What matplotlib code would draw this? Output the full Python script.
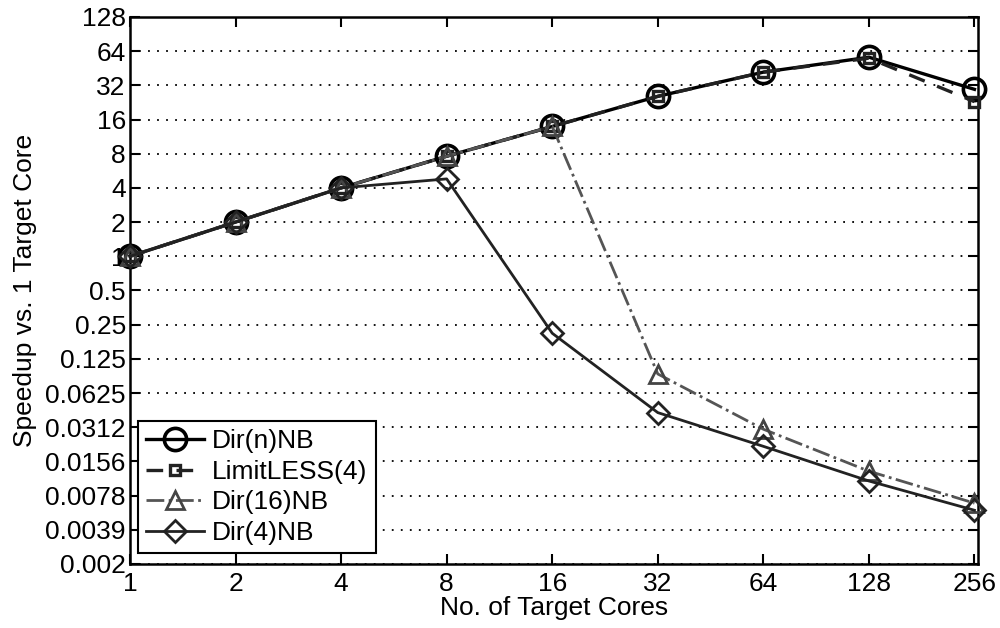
import numpy as np
import matplotlib
matplotlib.use("Agg")
import matplotlib.pyplot as plt
from matplotlib.ticker import FixedLocator, FixedFormatter, NullLocator

plt.rcParams['font.family'] = ['Liberation Sans', 'DejaVu Sans']

# data
cores = [1, 2, 4, 8, 16, 32, 64, 128, 256]
dir_n = [1, 2, 4, 7.6, 13.9, 25.6, 41.8, 56.6, 29.5]
limitless4 = [1, 2, 4, 7.6, 13.9, 25.6, 41.8, 55.5, 23.0]
dir16 = [1, 2, 4, 7.6, 13.9, 0.092, 0.030, 0.0128, 0.0067]
dir4 = [1, 2, 4, 4.8, 0.21, 0.042, 0.0212, 0.0105, 0.0058]

y_ticks = [2**-9, 2**-8, 2**-7, 2**-6, 2**-5, 2**-4, 2**-3, 2**-2, 2**-1,
           1, 2, 4, 8, 16, 32, 64, 128]
y_labels = ["0.002", "0.0039", "0.0078", "0.0156", "0.0312", "0.0625",
            "0.125", "0.25", "0.5", "1", "2", "4", "8", "16", "32", "64", "128"]
x_labels = [str(c) for c in cores]

fs = 19

fig = plt.figure(figsize=(10, 6.28), dpi=100)
ax = fig.add_axes([0.13, 0.102, 0.848, 0.871])

ax.plot(cores, dir_n, '-', color='black', lw=2.4, marker='o', ms=16,
        mfc='none', mec='black', mew=2.6, label='Dir(n)NB', clip_on=False, zorder=3)
ax.plot(cores, limitless4, '--', color='#222222', lw=2.4, marker='s', ms=7,
        mfc='none', mec='#222222', mew=2.4, dashes=(5, 4), label='LimitLESS(4)',
        clip_on=False, zorder=3)
ax.plot(cores, dir16, '-.', color='#555555', lw=2.0, marker='^', ms=13,
        mfc='none', mec='#444444', mew=2.0, label='Dir(16)NB', clip_on=False, zorder=3)
ax.plot(cores, dir4, '-', color='#222222', lw=2.0, marker='D', ms=11,
        mfc='none', mec='#222222', mew=2.0, label='Dir(4)NB', clip_on=False, zorder=3)

ax.set_xscale('log', base=2)
ax.set_yscale('log', base=2)
ax.set_xlim(1, 262)
ax.set_ylim(2**-9, 128)

ax.xaxis.set_major_locator(FixedLocator(cores))
ax.xaxis.set_major_formatter(FixedFormatter(x_labels))
ax.xaxis.set_minor_locator(NullLocator())
ax.yaxis.set_major_locator(FixedLocator(y_ticks))
ax.yaxis.set_major_formatter(FixedFormatter(y_labels))
ax.yaxis.set_minor_locator(NullLocator())

ax.tick_params(axis='both', which='major', direction='in', length=7, width=1.5,
               top=True, right=True, labelsize=fs)
ax.tick_params(axis='y', pad=3)
ax.tick_params(axis='x', pad=6)
ax.grid(axis='y', linestyle=(0, (1, 4)), color='black', lw=1.3)
for s in ax.spines.values():
    s.set_linewidth(1.8)

ax.set_xlabel('No. of Target Cores', fontsize=fs, labelpad=0)
ax.set_ylabel('Speedup vs. 1 Target Core', fontsize=fs, labelpad=6)

leg = ax.legend(loc='lower left', bbox_to_anchor=(0.01, 0.02), fontsize=fs,
                fancybox=False, edgecolor='black', framealpha=1,
                handlelength=2.2, borderpad=0.3, labelspacing=0.25,
                handletextpad=0.3, borderaxespad=0)
leg.get_frame().set_linewidth(1.5)

fig.savefig('out.png', dpi=100)
